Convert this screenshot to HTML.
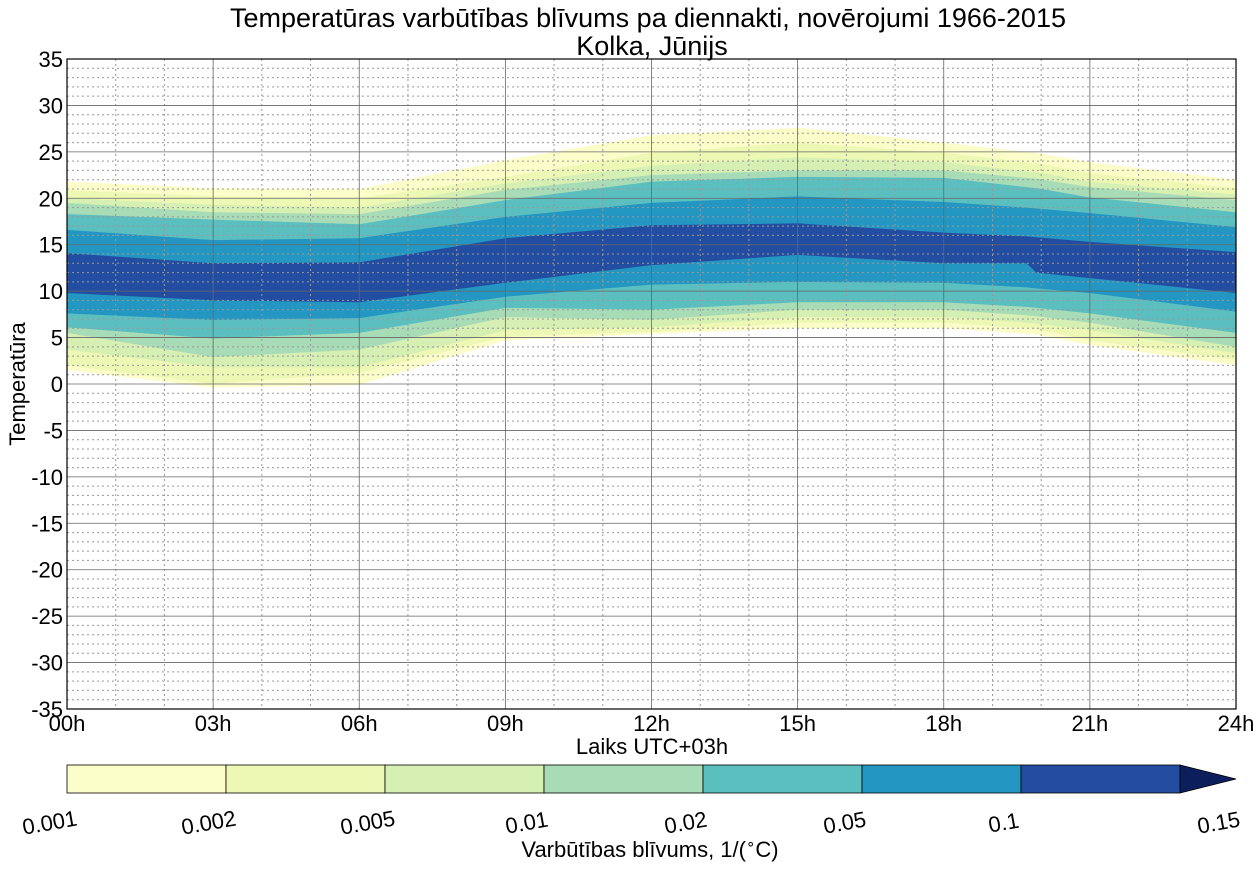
<!DOCTYPE html>
<html><head><meta charset="utf-8"><style>
body{margin:0;background:#fff;}
svg text{font-family:"Liberation Sans",Arial,sans-serif;fill:#000;}
</style></head><body>
<svg id="s" width="1260" height="868" xmlns="http://www.w3.org/2000/svg"></svg>
<script>
const s=document.getElementById('s');
const X0=67,X1=1236,Y0=59,Y1=709;
const xh=h=>X0+h*(X1-X0)/24, yt=t=>Y0+(35-t)*(Y1-Y0)/70;
let o='';
const cols=['#fcfec9','#eef8b5','#d6efb3','#a8dcb6','#5bbfc0','#2396c1','#234da0'];
const H=[0,3,6,9,12,15,18,19.7,19.9,21,24];
const tops=[
[21.8,20.9,20.0,19.5,18.3,16.6,14.1],
[21.1,20.2,19.3,18.5,17.7,15.5,13.0],
[21.0,20.0,19.0,18.3,17.2,15.7,13.1],
[24.1,22.3,21.6,20.9,19.8,18.0,15.7],
[26.8,24.9,23.5,22.5,21.8,19.5,17.1],
[27.6,26.0,24.4,23.0,22.3,20.2,17.3],
[26.0,24.9,23.9,23.0,22.2,19.6,16.3],
[25.0,23.9,22.9,22.2,21.2,19.0,15.9],
[24.9,23.8,22.8,22.1,21.1,18.9,15.8],
[23.9,22.7,21.8,21.2,20.1,18.4,15.3],
[22.0,21.1,20.4,19.8,18.5,16.9,14.2]];
const bots=[
[1.5,2.0,3.7,5.5,6.1,7.6,9.8],
[-0.4,0,1.8,2.9,4.9,6.9,9.0],
[-0.1,1.2,1.8,3.7,5.5,7.1,8.8],
[4.7,5.1,5.8,7.2,8.2,9.4,10.9],
[5.4,5.6,6.1,6.9,8.0,10.7,12.8],
[6.0,6.6,7.2,8.0,8.8,11.0,13.9],
[6.0,6.6,7.2,8.0,8.8,10.9,13.0],
[5.4,6.0,6.6,7.4,8.3,10.4,13.0],
[5.3,5.9,6.5,7.3,8.2,10.3,12.0],
[4.2,4.7,5.8,6.6,7.6,9.8,11.4],
[2.0,2.6,3.3,4.0,5.5,7.8,9.8]];
for(let l=0;l<7;l++){
 let p=[];
 for(let i=0;i<H.length;i++)p.push(xh(H[i]).toFixed(1)+','+yt(tops[i][l]).toFixed(1));
 for(let i=H.length-1;i>=0;i--)p.push(xh(H[i]).toFixed(1)+','+yt(bots[i][l]).toFixed(1));
 o+=`<polygon points="${p.join(' ')}" fill="${cols[l]}"/>`;
}
for(let t=-34;t<35;t++){if(t%5)o+=`<line x1="${X0}" x2="${X1}" y1="${yt(t)}" y2="${yt(t)}" stroke="#999" stroke-width="1" stroke-dasharray="2,3"/>`;}
for(let h=1;h<24;h++){if(h%3)o+=`<line y1="${Y0}" y2="${Y1}" x1="${xh(h)}" x2="${xh(h)}" stroke="#999" stroke-width="1" stroke-dasharray="2,3"/>`;}
for(let t=-30;t<35;t+=5)o+=`<line x1="${X0}" x2="${X1}" y1="${yt(t)}" y2="${yt(t)}" stroke="#666" stroke-width="0.8"/>`;
for(let h=3;h<24;h+=3)o+=`<line y1="${Y0}" y2="${Y1}" x1="${xh(h)}" x2="${xh(h)}" stroke="#666" stroke-width="0.8"/>`;
o+=`<rect x="${X0}" y="${Y0}" width="${X1-X0}" height="${Y1-Y0}" fill="none" stroke="#000" stroke-width="1.2"/>`;
for(let t=-35;t<=35;t+=5)o+=`<text x="${X0-4}" y="${yt(t)+8}" font-size="22" text-anchor="end">${t}</text>`;
for(let h=0;h<=24;h+=3)o+=`<text x="${xh(h)}" y="731" font-size="22" text-anchor="middle">${String(h).padStart(2,'0')}h</text>`;
o+=`<text x="648" y="27" font-size="27" text-anchor="middle">Temperatūras varbūtības blīvums pa diennakti, novērojumi 1966-2015</text>`;
o+=`<text x="652" y="55" font-size="27" text-anchor="middle">Kolka, Jūnijs</text>`;
o+=`<text x="652" y="754" font-size="22" text-anchor="middle">Laiks UTC+03h</text>`;
o+=`<text transform="translate(25,384) rotate(-90)" font-size="22" text-anchor="middle">Temperatūra</text>`;
const cx=[67,226,385,544,703,862,1021,1180];
for(let i=0;i<7;i++)o+=`<rect x="${cx[i]}" y="765" width="${cx[i+1]-cx[i]}" height="28" fill="${cols[i]}" stroke="#000" stroke-width="0.8"/>`;
o+=`<polygon points="1180,765 1236,779 1180,793" fill="#0c1f5c" stroke="#000" stroke-width="0.8"/>`;
const lb=['0.001','0.002','0.005','0.01','0.02','0.05','0.1','0.15'];
const lx=[67,226,385,544,703,862,1021,1236];
for(let i=0;i<8;i++)o+=`<text transform="translate(${lx[i]-16},830) rotate(-10)" font-size="22" text-anchor="middle">${lb[i]}</text>`;
o+=`<text x="650" y="857" font-size="22" text-anchor="middle">Varbūtības blīvums, 1/(<tspan font-size="15" dy="-8">∘</tspan><tspan dy="8">C)</tspan></text>`;
s.innerHTML=o;
</script>
</body></html>
